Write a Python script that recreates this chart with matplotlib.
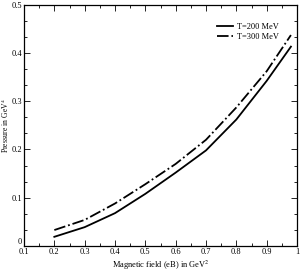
import numpy as np
import matplotlib
matplotlib.use('Agg')
import matplotlib.pyplot as plt
from matplotlib.ticker import MultipleLocator, FuncFormatter

plt.rcParams['font.family'] = ['Liberation Serif', 'DejaVu Serif']
plt.rcParams['mathtext.fontset'] = 'stix'

# magnetic field (eB) in GeV^2
eB = [0.2, 0.3, 0.4, 0.5, 0.6, 0.7, 0.8, 0.9, 0.98]
# pressure in GeV^4
p_200 = [0.019, 0.039, 0.068, 0.108, 0.152, 0.198, 0.262, 0.342, 0.413]
p_300 = [0.033, 0.054, 0.088, 0.128, 0.170, 0.220, 0.287, 0.362, 0.437]

fig = plt.figure(figsize=(3.0, 2.73), dpi=100)
ax = fig.add_axes([0.08, 0.099, 0.91, 0.884])

ax.plot(eB, p_200, 'k-', lw=1.3, label='T=200 MeV')
ax.plot(eB, p_300, 'k-.', lw=1.3, label='T=300 MeV')

ax.set_xlim(0.1, 1)
ax.set_ylim(0, 0.5)
ax.xaxis.set_major_locator(MultipleLocator(0.1))
ax.xaxis.set_minor_locator(MultipleLocator(0.05))
ax.yaxis.set_major_locator(MultipleLocator(0.1))
ax.yaxis.set_minor_locator(MultipleLocator(0.1 / 3))
ax.xaxis.set_major_formatter(FuncFormatter(lambda v, pos: '%g' % round(v, 2)))
# y "0" is written separately, a bit higher, so it clears the x label "0.1"
ax.yaxis.set_major_formatter(FuncFormatter(lambda v, pos: '' if abs(v) < 1e-9 else '%g' % round(v, 2)))
ax.text(-0.008, 0.0, '0', transform=ax.get_yaxis_transform(), ha='right', va='bottom', fontsize=6)

ax.tick_params(which='both', direction='in', top=True, right=True, labelsize=6, pad=1.2)
ax.tick_params(which='major', length=4, width=0.6)
ax.tick_params(which='minor', length=2.5, width=0.6)
for s in ax.spines.values():
    s.set_linewidth(0.9)

ax.set_xlabel('Magnetic field (eB) in GeV$^2$', fontsize=6, labelpad=2)
ax.set_ylabel('Pressure in GeV$^4$', fontsize=5.5, labelpad=0.5)

ax.legend(loc='upper right', bbox_to_anchor=(0.96, 0.955), frameon=False, fontsize=6,
          handlelength=2.0, handletextpad=0.4, labelspacing=0.2)

fig.savefig('out.png', dpi=100)
